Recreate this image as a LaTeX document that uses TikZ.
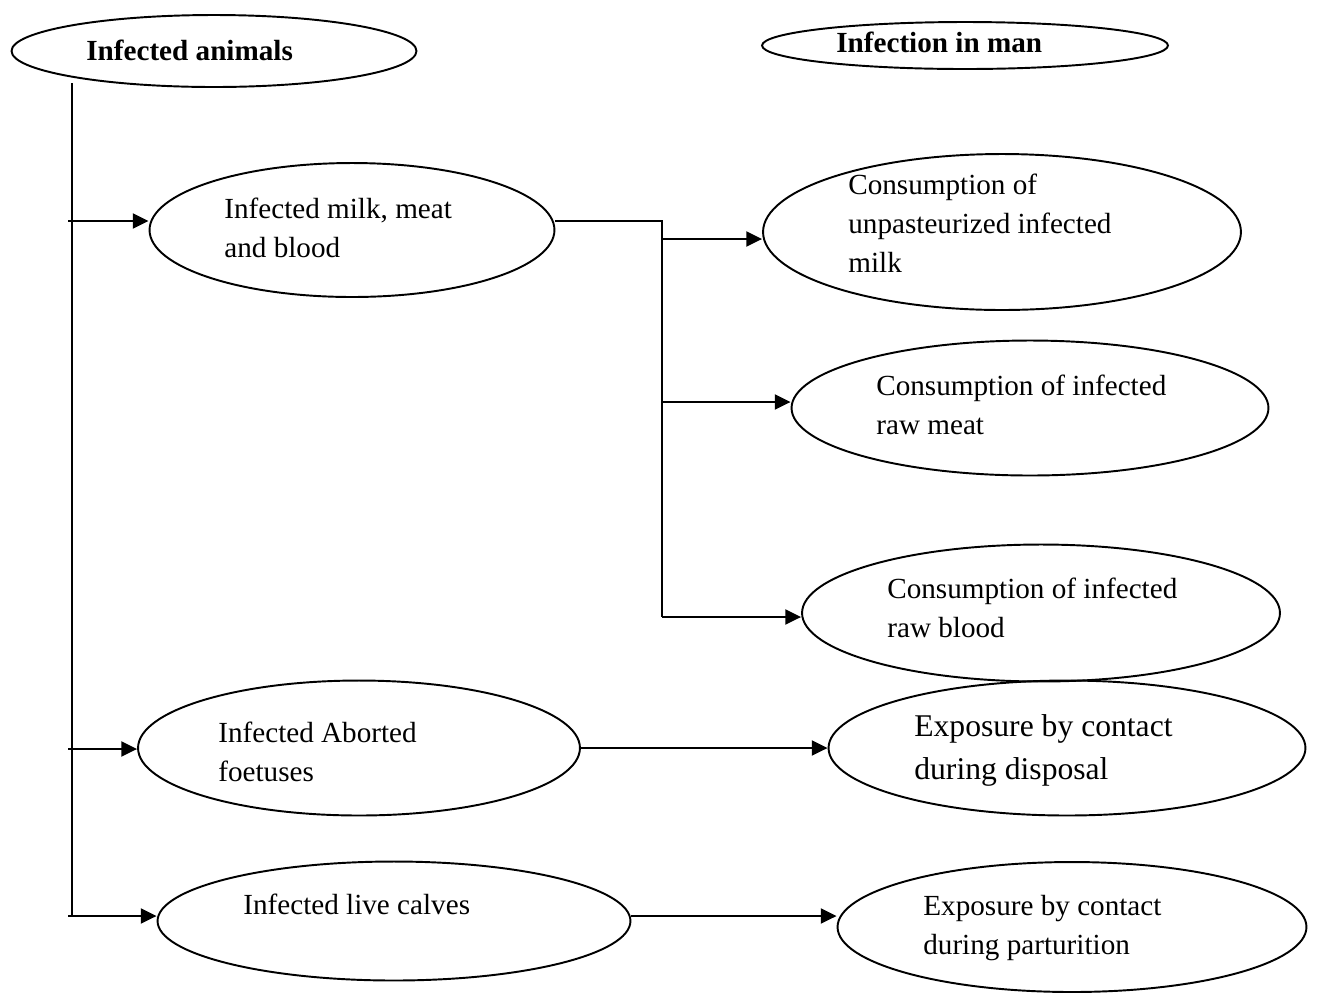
\documentclass[tikz,border=0pt]{standalone}
\usepackage{fontspec}
\setmainfont{Liberation Serif}
\usetikzlibrary{shapes.geometric,arrows.meta}
\begin{document}
\begin{tikzpicture}[x=0.02cm,y=-0.02cm,
  oval/.style={draw=black,line width=1.1pt,ellipse,inner sep=0pt},
  lbl/.style={anchor=base west,align=left,inner sep=0pt,font=\fontsize{16.6}{22}\selectfont},
  boldlbl/.style={lbl,font=\bfseries\fontsize{16.6}{22}\selectfont},
  biglbl/.style={lbl,font=\fontsize{18}{24}\selectfont},
  link/.style={line width=1.3pt},
  flow/.style={link,-{Triangle[length=9pt,width=8.5pt]}}]
\useasboundingbox (0,0) rectangle (1318,992);
\node [oval,minimum width=8.1cm,minimum height=1.44cm] (animals) at (214,51) {};
\node [boldlbl] (animals-t) at (86,60) {Infected animals};
\node [oval,minimum width=8.12cm,minimum height=0.94cm] (man) at (965,45.5) {};
\node [boldlbl] (man-t) at (836,52) {Infection in man};
\node [oval,minimum width=8.1cm,minimum height=2.68cm] (milkmeat) at (352,230) {};
\node [lbl] (milkmeat-t) at (224,257) {Infected milk, meat\\and blood};
\node [oval,minimum width=9.56cm,minimum height=3.12cm] (unpast) at (1002,232) {};
\node [lbl] (unpast-t) at (848,272) {Consumption of\\unpasteurized infected\\milk};
\node [oval,minimum width=9.54cm,minimum height=2.7cm] (rawmeat) at (1030,408) {};
\node [lbl] (rawmeat-t) at (876,434) {Consumption of infected\\raw meat};
\node [oval,minimum width=9.56cm,minimum height=2.74cm] (rawblood) at (1041,613) {};
\node [lbl] (rawblood-t) at (887,637) {Consumption of infected\\raw blood};
\node [oval,minimum width=8.84cm,minimum height=2.7cm] (aborted) at (359,748) {};
\node [lbl] (aborted-t) at (218,781) {Infected Aborted\\foetuses};
\node [oval,minimum width=9.54cm,minimum height=2.7cm] (disposal) at (1067,748) {};
\node [biglbl] (disposal-t) at (914,779) {Exposure by contact\\during disposal};
\node [oval,minimum width=9.46cm,minimum height=2.38cm] (calves) at (394,921) {};
\node [lbl] (calves-t) at (243,914) {Infected live calves};
\node [oval,minimum width=9.38cm,minimum height=2.6cm] (parturition) at (1072,927) {};
\node [lbl] (parturition-t) at (923,954) {Exposure by contact\\during parturition};
\coordinate (top) at (72,83);
\coordinate (bot) at (72,916);
\coordinate (b1) at (68,221);
\coordinate (b2) at (68,749);
\coordinate (b3) at (68,916);
\coordinate (fork) at (662,221);
\coordinate (f1) at (662,239);
\coordinate (f2) at (662,402);
\coordinate (f3) at (662,617);
\draw [link] (top) -- (bot);
\draw [flow] (b1) -- (b1 -| milkmeat.west);
\draw [flow] (b2) -- (b2 -| aborted.west);
\draw [flow] (b3) -- (b3 -| calves.west);
\draw [link] (milkmeat.east |- fork) -- (fork) -- (f3);
\draw [flow] (f1) -- (f1 -| unpast.west);
\draw [flow] (f2) -- (f2 -| rawmeat.west);
\draw [flow] (f3) -- (f3 -| rawblood.west);
\draw [flow] (aborted.east) -- (disposal.west);
\draw [flow] (b3 -| calves.east) -- (b3 -| parturition.west);
\end{tikzpicture}
\end{document}
